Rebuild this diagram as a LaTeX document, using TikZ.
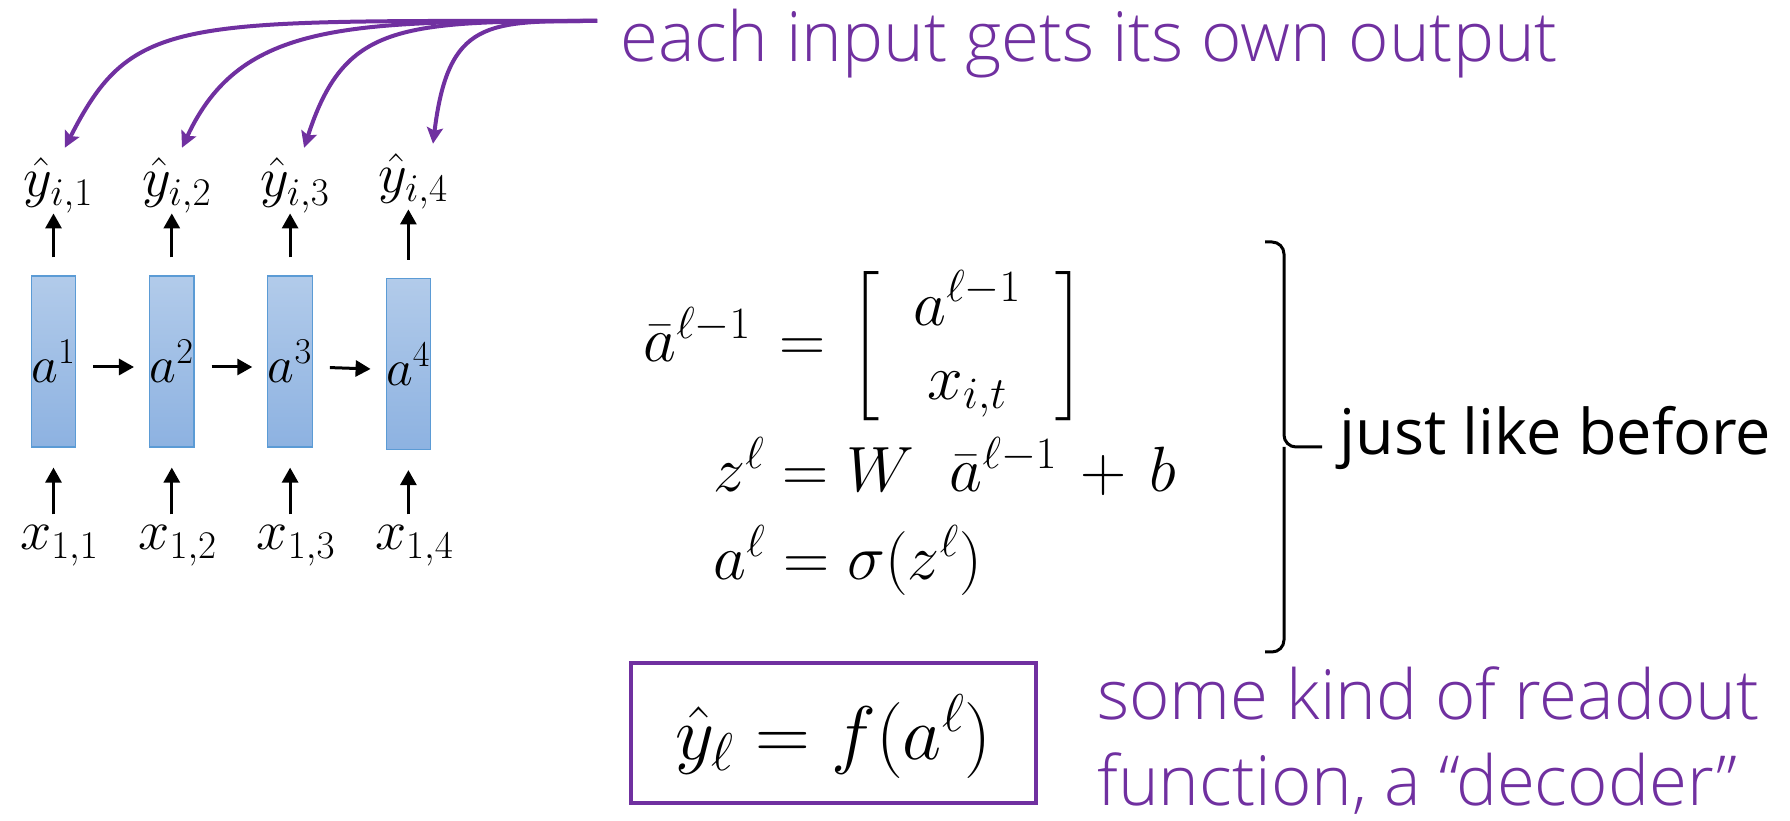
\RequirePackage{fix-cm}
\documentclass[tikz,border=0pt]{standalone}
\usepackage{amsmath}
\usepackage{fontspec}
\usepackage{tikz}
\usetikzlibrary{arrows.meta, positioning}
\IfFontExistsTF{Open Sans Light}{\newfontfamily\notefont{Open Sans Light}}{\newfontfamily\notefont{Open Sans}}
\newfontfamily\remarkfont{Open Sans}
\definecolor{notepurple}{HTML}{7030A0}
\definecolor{celltop}{HTML}{B2CBEA}
\definecolor{cellbot}{HTML}{8DB2E1}
\definecolor{celledge}{HTML}{5B9BD5}

\begin{document}
\begin{tikzpicture}[
  x=0.5pt, y=0.5pt,
  cell/.style={rectangle, draw=celledge, line width=0.6pt, top color=celltop, bottom color=cellbot,
               minimum width=19.5pt, minimum height=85.5pt, inner sep=0pt, font=\fontsize{26}{26}\selectfont},
  lbl/.style={inner sep=0pt, anchor=base, font=\fontsize{28}{30}\selectfont},
  arrow/.style={-{Triangle[length=7.5pt,width=8pt]}, line width=1.5pt},
  linkarrow/.style={-{Stealth[length=8pt,width=8pt,inset=1.5pt]}, line width=2pt, notepurple},
  eqn/.style={inner sep=0pt, anchor=base west, font=\fontsize{32}{37}\selectfont},
  note/.style={inner sep=0pt, anchor=base west, text=notepurple, font=\notefont\fontsize{34.5}{40}\selectfont}
]
\useasboundingbox (0,0) rectangle (1790,820);

\node[cell] (cell1) at (53.5,458.5) {$a^1$};
\node[cell] (cell2) at (171.8,458.5) {$a^2$};
\node[cell] (cell3) at (290.1,458.5) {$a^3$};
\node[cell] (cell4) at (408.4,456) {$a^4$};

\node[lbl] (yhat1) at (58.5,623) {$\hat y_{i,1}$};
\node[lbl] (yhat2) at (176.8,623) {$\hat y_{i,2}$};
\node[lbl] (yhat3) at (295.1,623) {$\hat y_{i,3}$};
\node[lbl] (yhat4) at (413.4,627) {$\hat y_{i,4}$};

\node[lbl] (x1) at (59.5,270) {$x_{1,1}$};
\node[lbl] (x2) at (177.8,270) {$x_{1,2}$};
\node[lbl] (x3) at (296.1,270) {$x_{1,3}$};
\node[lbl] (x4) at (414.4,270) {$x_{1,4}$};

\draw[arrow, shorten <=9pt] (cell1.north) -- (cell1.north |- yhat1.south);
\draw[arrow, shorten <=9pt] (cell2.north) -- (cell2.north |- yhat2.south);
\draw[arrow, shorten <=9pt] (cell3.north) -- (cell3.north |- yhat3.south);
\draw[arrow, shorten <=9pt] (cell4.north) -- (cell4.north |- yhat4.south);

\draw[arrow, shorten <=5.5pt, shorten >=10pt] (cell1.south |- x1.north) -- (cell1.south);
\draw[arrow, shorten <=5.5pt, shorten >=10pt] (cell2.south |- x2.north) -- (cell2.south);
\draw[arrow, shorten <=5.5pt, shorten >=10pt] (cell3.south |- x3.north) -- (cell3.south);
\draw[arrow, shorten <=5.5pt, shorten >=10pt] (cell4.south |- x4.north) -- (cell4.south);

\draw[arrow, shorten <=8.5pt, shorten >=7.5pt] ([yshift=-2.75pt]cell1.east) -- ([yshift=-2.75pt]cell2.west);
\draw[arrow, shorten <=8.5pt, shorten >=7.5pt] ([yshift=-2.75pt]cell2.east) -- ([yshift=-2.75pt]cell3.west);
\draw[arrow, shorten <=8.5pt, shorten >=7.5pt] ([yshift=-2.75pt]cell3.east) -- ([yshift=-2.75pt]cell4.west);

\node[note] (ownout) at (620,758) {each input gets its own output};
\coordinate (hub) at (597,799);
\draw[linkarrow] (hub) .. controls +(180:420) and +(63:150) .. ([xshift=3.2pt,yshift=5pt]yhat1.north);
\draw[linkarrow] (hub) .. controls +(180:250) and +(65:140) .. ([xshift=2.6pt,yshift=5pt]yhat2.north);
\draw[linkarrow] (hub) .. controls +(180:200) and +(72:130) .. ([xshift=4.5pt,yshift=5pt]yhat3.north);
\draw[linkarrow] (hub) .. controls +(180:110) and +(83:125) .. ([xshift=9.8pt,yshift=5pt]yhat4.north);

\node[eqn] (abar) at (643,458) {$\bar a^{\ell-1}\mkern3mu = \mkern2mu\setlength\arraycolsep{17pt}\left[\begin{array}{c} a^{\ell-1}\\ x_{i,t} \end{array}\right]$};
\node[eqn] (zl) at (713,328) {$z^{\ell} = W\;\;\bar a^{\ell-1} \mkern2.5mu+\mkern2.5mu b$};
\node[eqn] (al) at (713,240) {$a^{\ell} = \sigma(z^{\ell})$};

\coordinate (brace) at (1322,373);
\draw[line width=1.5pt, rounded corners=6pt] (1265,578) -- (1284,578) -- (1284,373) -- (brace);
\draw[line width=1.5pt, rounded corners=6pt] (1284,373) -- (1284,168) -- (1265,168);
\node[anchor=base west, inner sep=0pt, font=\remarkfont\fontsize{31.5}{36}\selectfont] (same) at (1339,365) {just like before};

\node[draw=notepurple, line width=2pt, minimum width=202.5pt, minimum height=70pt, inner sep=0pt,
      text height=36pt, text depth=9.5pt, font=\fontsize{38}{40}\selectfont] (readout) at (833.5,87) {$\hat y_{\ell} = f(a^{\ell})$};
\node[note] (readnote) at (1097,100) {some kind of readout};
\node[note] (readnote2) at (1097,15) {function, a “decoder”};
\end{tikzpicture}
\end{document}
